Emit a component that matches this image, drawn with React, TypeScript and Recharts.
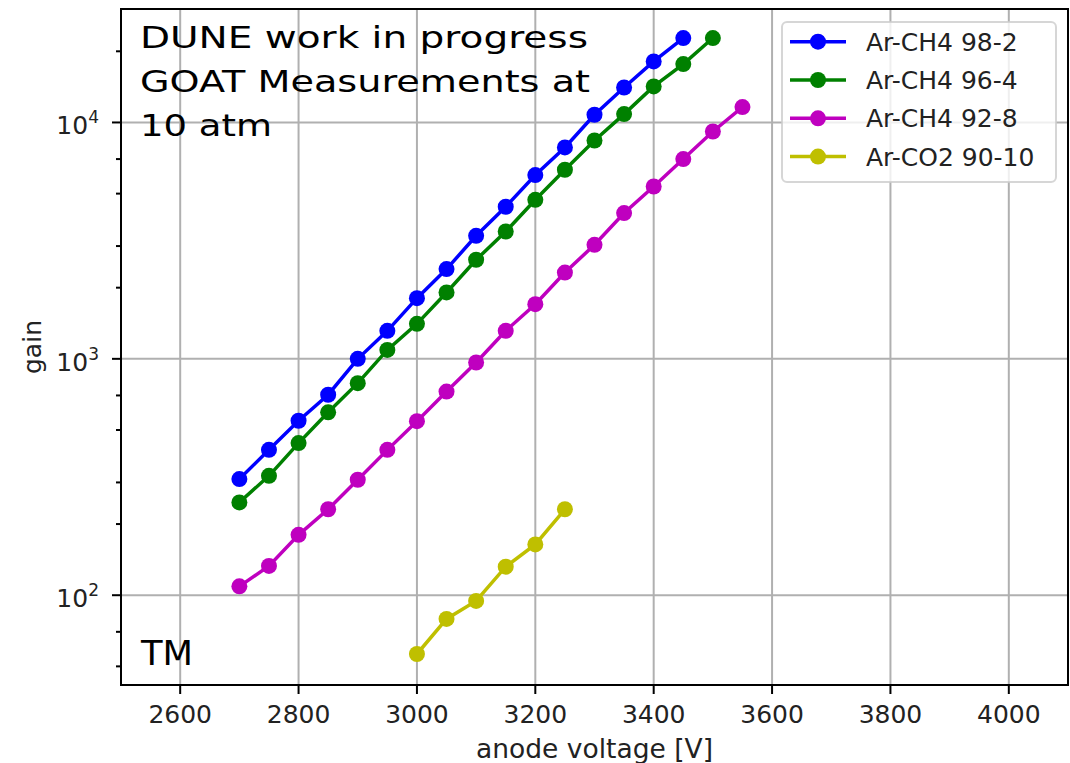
import {
  CartesianGrid,
  Label,
  Line,
  LineChart,
  ReferenceArea,
  XAxis,
  YAxis,
} from 'recharts'

const FONT = '"DejaVu Sans", sans-serif'
const TEXT_COLOR = '#222'

// anode voltage [V] for each gas mixture
const voltsCh4_98 = [
  2700, 2750, 2800, 2850, 2900, 2950, 3000, 3050, 3100, 3150, 3200, 3250,
  3300, 3350, 3400, 3450,
]
const gainCh4_98 = [
  310, 412, 547, 705, 1000, 1314, 1806, 2397, 3315, 4400, 5990, 7840, 10780,
  14060, 18120, 22760,
]

const voltsCh4_96 = [
  2700, 2750, 2800, 2850, 2900, 2950, 3000, 3050, 3100, 3150, 3200, 3250,
  3300, 3350, 3400, 3450, 3500,
]
const gainCh4_96 = [
  247, 320, 440, 594, 789, 1091, 1406, 1909, 2625, 3456, 4708, 6310, 8390,
  10850, 14200, 17660, 22760,
]

const voltsCh4_92 = [
  2700, 2750, 2800, 2850, 2900, 2950, 3000, 3050, 3100, 3150, 3200, 3250,
  3300, 3350, 3400, 3450, 3500, 3550,
]
const gainCh4_92 = [
  109, 133, 180, 231, 308, 412, 545, 727, 965, 1314, 1703, 2318, 3037, 4137,
  5360, 7000, 9160, 11620,
]

const voltsCo2_90 = [3000, 3050, 3100, 3150, 3200, 3250]
const gainCo2_90 = [56.4, 79.4, 94.6, 132, 164, 231]

const xTicks = [2600, 2800, 3000, 3200, 3400, 3600, 3800, 4000]
const yMajorTicks = [100, 1000, 10000]
const yMinorTicks = [
  50, 60, 70, 80, 90, 200, 300, 400, 500, 600, 700, 800, 900, 2000, 3000,
  4000, 5000, 6000, 7000, 8000, 9000, 20000,
]

const X_DOMAIN: [number, number] = [2500, 4100]
const Y_DOMAIN: [number, number] = [41.7, 30200]

const series = [
  { name: 'Ar-CH4 98-2', color: '#0000ff', volts: voltsCh4_98, gains: gainCh4_98 },
  { name: 'Ar-CH4 96-4', color: '#008000', volts: voltsCh4_96, gains: gainCh4_96 },
  { name: 'Ar-CH4 92-8', color: '#bf00bf', volts: voltsCh4_92, gains: gainCh4_92 },
  { name: 'Ar-CO2 90-10', color: '#bfbf00', volts: voltsCo2_90, gains: gainCo2_90 },
]

function toRows(volts: number[], gains: number[]) {
  return volts.map((v, i) => ({ v, g: gains[i] }))
}

function GainTick(props: any) {
  const { x, y, payload } = props
  const value = payload.value as number
  const major = yMajorTicks.includes(value)
  const len = major ? 9 : 5
  return (
    <g>
      <line x1={x - len} x2={x} y1={y} y2={y} stroke="#000" strokeWidth={2} />
      {major && (
        <text
          x={x - 22}
          y={y + 12}
          textAnchor="end"
          fontFamily={FONT}
          fontSize={25}
          fill={TEXT_COLOR}
        >
          10
          <tspan dy={-11} fontSize={17}>
            {Math.round(Math.log10(value))}
          </tspan>
        </text>
      )}
    </g>
  )
}

function Overlay() {
  const rowStart = 41.7
  const rowGap = 38.3
  return (
    <svg
      width={1070}
      height={763}
      style={{ position: 'absolute', left: 0, top: 0, pointerEvents: 'none' }}
    >
      <g fontFamily={FONT} fill="#000">
        <text x={140} y={48} fontSize={31} textLength={448} lengthAdjust="spacingAndGlyphs">
          DUNE work in progress
        </text>
        <text x={140} y={92} fontSize={31} textLength={450} lengthAdjust="spacingAndGlyphs">
          GOAT Measurements at
        </text>
        <text x={140} y={136} fontSize={31} textLength={132} lengthAdjust="spacingAndGlyphs">
          10 atm
        </text>
        <text x={141} y={665} fontSize={34} textLength={52} lengthAdjust="spacingAndGlyphs">
          TM
        </text>
      </g>
      <rect
        x={782}
        y={22}
        width={274}
        height={160}
        rx={5}
        fill="rgba(255,255,255,0.8)"
        stroke="rgba(204,204,204,0.8)"
        strokeWidth={2}
      />
      {series.map((s, i) => {
        const cy = rowStart + i * rowGap
        return (
          <g key={s.name}>
            <line x1={790} x2={846} y1={cy} y2={cy} stroke={s.color} strokeWidth={3.5} />
            <circle cx={818} cy={cy} r={8} fill={s.color} />
            <text
              x={866}
              y={cy + 9}
              fontFamily={FONT}
              fontSize={25}
              fill={TEXT_COLOR}
            >
              {s.name}
            </text>
          </g>
        )
      })}
    </svg>
  )
}

export default function App() {
  return (
    <div
      style={{
        position: 'absolute',
        left: 0,
        top: 0,
        width: 1070,
        height: 763,
        background: '#fff',
      }}
    >
      <LineChart
        width={1070}
        height={763}
        margin={{ top: 9, right: 2, bottom: 0, left: 0 }}
      >
        <CartesianGrid
          stroke="#b0b0b0"
          strokeWidth={2}
          horizontalValues={yMajorTicks}
          verticalValues={xTicks}
        />
        <XAxis
          dataKey="v"
          type="number"
          domain={X_DOMAIN}
          allowDataOverflow
          ticks={xTicks}
          height={78}
          tickSize={9}
          tickMargin={11}
          tick={{ fontSize: 25, fill: TEXT_COLOR, fontFamily: FONT }}
          tickLine={{ stroke: '#000', strokeWidth: 2 }}
          axisLine={{ stroke: '#000', strokeWidth: 2 }}
        >
          <Label
            content={(p: any) => {
              const vb = p.viewBox
              return (
                <text
                  x={vb.x + vb.width / 2}
                  y={vb.y + 73}
                  textAnchor="middle"
                  fontFamily={FONT}
                  fontSize={26.5}
                  fill={TEXT_COLOR}
                >
                  anode voltage [V]
                </text>
              )
            }}
          />
        </XAxis>
        <YAxis
          type="number"
          scale="log"
          domain={Y_DOMAIN}
          allowDataOverflow
          ticks={[...yMinorTicks, ...yMajorTicks].sort((a, b) => a - b)}
          width={121}
          tickSize={0}
          tickMargin={0}
          tickLine={false}
          tick={<GainTick />}
          axisLine={{ stroke: '#000', strokeWidth: 2 }}
        >
          <Label
            content={(p: any) => {
              const vb = p.viewBox
              const cx = vb.x + 41
              const cy = vb.y + vb.height / 2
              return (
                <text
                  x={cx}
                  y={cy}
                  transform={`rotate(-90 ${cx} ${cy})`}
                  textAnchor="middle"
                  fontFamily={FONT}
                  fontSize={25}
                  fill={TEXT_COLOR}
                >
                  gain
                </text>
              )
            }}
          />
        </YAxis>
        {series.map((s) => (
          <Line
            key={s.name}
            data={toRows(s.volts, s.gains)}
            dataKey="g"
            name={s.name}
            type="linear"
            stroke={s.color}
            strokeWidth={3.5}
            dot={{ r: 8, fill: s.color, stroke: s.color, strokeWidth: 0 }}
            activeDot={false}
            isAnimationActive={false}
          />
        ))}
        <ReferenceArea
          x1={X_DOMAIN[0]}
          x2={X_DOMAIN[1]}
          y1={Y_DOMAIN[0]}
          y2={Y_DOMAIN[1]}
          fill="none"
          stroke="#000"
          strokeWidth={2}
          ifOverflow="visible"
        />
      </LineChart>
      <Overlay />
    </div>
  )
}
